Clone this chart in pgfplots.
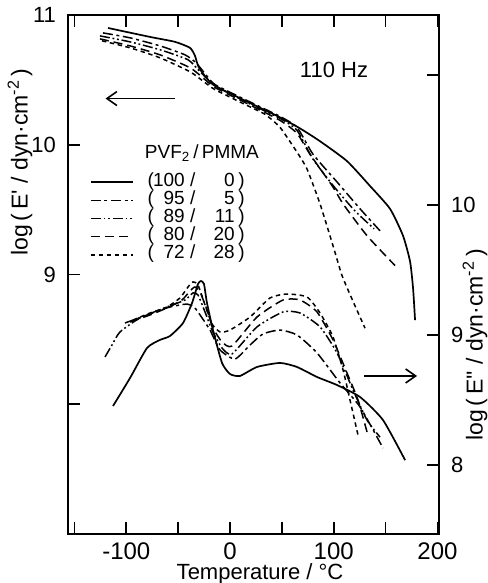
\documentclass[border=0pt]{standalone}
\usepackage{fontspec}
\setmainfont{Liberation Sans}
\usepackage{pgfplots}
\pgfplotsset{compat=1.18}
\usetikzlibrary{arrows.meta}

% blend ratio in the legend, columns kept aligned
\newcommand{\ratio}[2]{\hspace*{7pt}\makebox[3.5pt][l]{(}\makebox[15pt][r]{#1}\makebox[8pt]{/}\makebox[17pt][r]{#2}\makebox[5pt][r]{)}}

\pgfplotsset{
  dmaframe/.style={
    scale only axis, width=185.5pt, height=259.5pt,
    at={(0,0)}, anchor=south west,
    xmin=-156.2, xmax=201.5,
    tick align=inside, major tick length=6pt,
    axis line style={line width=0.9pt},
    every tick/.style={line width=0.9pt, black},
    xticklabel style={font=\fontsize{12}{12}\selectfont},
    yticklabel style={font=\fontsize{11}{11}\selectfont},
    clip=false,
  },
  curve/.style={black, line width=0.75pt, smooth, tension=0.35},
  s100/.style={curve, line width=0.85pt, solid},
  s95/.style={curve, dash pattern=on 5pt off 1.8pt on 1.5pt off 1.8pt},
  s89/.style={curve, dash pattern=on 5pt off 1.4pt on 0.9pt off 1.4pt on 0.9pt off 1.4pt},
  s80/.style={curve, dash pattern=on 4.5pt off 2.5pt},
  s72/.style={curve, dash pattern=on 2.2pt off 1.8pt},
}

\begin{document}
\begin{tikzpicture}
\useasboundingbox (-34pt,-24.5pt) rectangle (209.5pt,267pt);

% storage modulus E' (left scale)
\begin{axis}[dmaframe,
  ymin=7.0, ymax=11.0,
  xtick={-150,-100,-50,0,50,100,150,200},
  xticklabels={{},-100,{},0,{},100,{},200},
  ytick={8,9,10,11}, yticklabels={{},9,10,11},
  ytick pos=left,
  yticklabel style={xshift=-2.5pt},
  xticklabel style={yshift=-1pt},
  legend image code/.code={\draw[#1,sharp plot] (0pt,0pt) -- (21pt,0pt);},
  legend cell align=left,
  legend style={at={(rel axis cs:0.0593,0.6956)}, anchor=north west,
    draw=none, fill=none, inner sep=0pt, outer sep=0pt,
    column sep=0pt, row sep=0pt,
    font=\fontsize{9.5}{9.5}\selectfont,
    nodes={inner sep=0pt, text height=6.6pt, text depth=2.5pt}},
]
\addplot[s100] coordinates {
 (-117.6,10.900) (-77.1,10.831) (-53.0,10.793) (-38.6,10.747) (-33.8,10.686)
 (-29.9,10.594) (-16.4,10.464) (16.4,10.333) (48.2,10.211) (67.5,10.126)
 (86.8,10.027) (112.8,9.874) (135.0,9.682) (154.3,9.506) (166.8,9.299)
 (173.6,9.100) (176.5,8.893) (178.4,8.648)};
\addlegendentry{\ratio{100}{0}}
\addplot[s95] coordinates {
 (-122.5,10.862) (-96.4,10.824) (-67.5,10.762) (-43.4,10.693) (-32.8,10.632)
 (-24.1,10.548) (-14.5,10.464) (16.4,10.341) (48.2,10.218) (64.6,10.134)
 (80.0,9.927) (103.2,9.713) (125.4,9.506) (144.6,9.337)};
\addlegendentry{\ratio{95}{5}}
\addplot[s89] coordinates {
 (-125.4,10.839) (-96.4,10.793) (-67.5,10.732) (-40.5,10.655) (-28.9,10.563)
 (-14.5,10.456) (16.4,10.326) (48.2,10.203) (64.6,10.111) (80.0,9.889)
 (101.3,9.667) (120.5,9.490) (138.9,9.352)};
\addlegendentry{\ratio{89}{11}}
\addplot[s80] coordinates {
 (-125.4,10.816) (-96.4,10.762) (-67.5,10.693) (-38.6,10.594) (-24.1,10.502)
 (-14.5,10.441) (16.4,10.318) (48.2,10.188) (64.6,10.088) (77.1,9.927)
 (99.3,9.674) (109.0,9.544) (132.1,9.299) (159.1,9.069)};
\addlegendentry{\ratio{80}{20}}
\addplot[s72] coordinates {
 (-123.4,10.801) (-96.4,10.747) (-67.5,10.670) (-38.6,10.563) (-24.1,10.479)
 (-14.5,10.425) (16.4,10.303) (33.8,10.234) (48.2,10.134) (64.6,9.943)
 (74.3,9.812) (86.8,9.544) (99.3,9.222) (108.0,8.992) (118.6,8.793)
 (130.2,8.586)};
\addlegendentry{\ratio{72}{28}}

% arrows showing which scale each family of curves belongs to
\draw[line width=0.8pt, -{Straight Barb[length=5pt,width=7pt]}]
  (axis cs:-53,10.356) -- (axis cs:-120,10.356);
\draw[line width=0.8pt, -{Straight Barb[length=5pt,width=7pt]}]
  (axis cs:129.2,8.218) -- (axis cs:180.3,8.218);

\node[font=\fontsize{11}{11}\selectfont] at (rel axis cs:0.717,0.894) {110 Hz};
\node[font=\fontsize{9.5}{9.5}\selectfont] at (rel axis cs:0.361,0.734)
  {PVF\textsubscript{2}\,/\,PMMA};
\node[rotate=90, font=\fontsize{11.5}{11.5}\selectfont]
  at ([xshift=-24pt]rel axis cs:0,0.7168)
  {log\,(\,E\textquotesingle\ /\ dyn·cm\textsuperscript{-2}\,)};
\node[font=\fontsize{11}{11}\selectfont]
  at ([yshift=-20pt]rel axis cs:0.5175,0) {Temperature / °C};
\end{axis}

% loss modulus E'' (right scale)
\begin{axis}[dmaframe,
  ymin=7.47, ymax=11.46,
  xtick=\empty,
  ytick={8,9,10,11}, yticklabels={8,9,10,{}},
  ytick pos=right, yticklabel pos=right,
  yticklabel style={xshift=2.5pt},
]
\addplot[s100] coordinates {
 (-112.8,8.454) (-96.4,8.669) (-80.0,8.900) (-67.5,8.962) (-57.9,8.992)
 (-45.3,9.092) (-36.6,9.246) (-30.9,9.392) (-28.0,9.415) (-25.1,9.392)
 (-22.2,9.246) (-16.4,9.038) (-7.7,8.785) (0,8.700) (9.6,8.685)
 (26.0,8.754) (48.2,8.785) (64.6,8.754) (83.9,8.677) (103.2,8.615)
 (125.4,8.523) (147.5,8.346) (168.8,8.038)};
\addplot[s95] coordinates {
 (-101.3,9.092) (-77.1,9.162) (-57.9,9.215) (-41.5,9.238) (-34.7,9.215)
 (-28.9,9.154) (-19.3,9.038) (-9.6,8.885) (4.8,8.815) (19.3,8.923)
 (31.8,9.008) (48.2,9.038) (64.6,9.000) (83.9,8.862) (106.1,8.631)
 (125.4,8.446) (147.5,8.131)};
\addplot[s89] coordinates {
 (-120.5,8.831) (-113.8,8.923) (-106.1,9.023) (-86.8,9.131) (-60.8,9.215)
 (-43.4,9.269) (-35.7,9.323) (-30.9,9.308) (-24.1,9.177) (-17.4,9.038)
 (-7.7,8.900) (1.9,8.854) (26.0,9.062) (51.1,9.177) (67.5,9.169)
 (86.8,9.062) (103.2,8.862) (118.6,8.577) (132.1,8.346) (144.6,8.215)};
\addplot[s80] coordinates {
 (-96.4,9.100) (-77.1,9.154) (-60.8,9.208) (-46.3,9.269) (-38.6,9.338)
 (-33.8,9.369) (-28.9,9.331) (-22.2,9.192) (-16.4,9.054) (-7.7,8.946)
 (1.9,8.915) (26.0,9.138) (51.1,9.269) (67.5,9.269) (83.9,9.177)
 (99.3,8.962) (112.8,8.708) (123.4,8.500) (132.1,8.254)};
\addplot[s72] coordinates {
 (-93.5,9.115) (-77.1,9.169) (-60.8,9.215) (-48.2,9.285) (-40.5,9.369)
 (-35.7,9.408) (-30.9,9.385) (-24.1,9.231) (-17.4,9.085) (-9.6,9.023)
 (0,9.038) (19.3,9.138) (38.6,9.285) (55.0,9.315) (74.3,9.292)
 (86.8,9.169) (99.3,8.985) (109.0,8.731) (115.7,8.500) (123.4,8.231)};

\node[rotate=90, font=\fontsize{11.5}{11.5}\selectfont]
  at ([xshift=18pt]rel axis cs:1,0.364)
  {log\,(\,E\textquotesingle\textquotesingle\ /\ dyn·cm\textsuperscript{-2}\,)};
\end{axis}
\end{tikzpicture}
\end{document}
